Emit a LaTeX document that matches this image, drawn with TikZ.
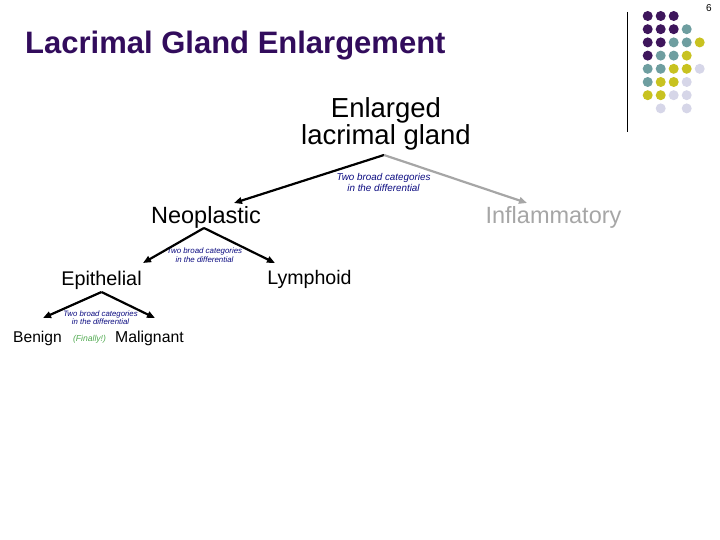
\documentclass[tikz,border=0pt]{standalone}
\usepackage{fontspec}
\setmainfont{Liberation Sans}
\setsansfont{Liberation Sans}
\usetikzlibrary{arrows.meta}
\definecolor{titlepurple}{RGB}{50,12,92}
\definecolor{dotP}{RGB}{62,22,92}
\definecolor{dotT}{RGB}{110,158,160}
\definecolor{dotY}{RGB}{200,194,32}
\definecolor{dotL}{RGB}{214,214,232}
\definecolor{lblnavy}{RGB}{10,10,128}
\definecolor{lightgray}{RGB}{166,166,166}
\definecolor{finalgreen}{RGB}{80,170,80}
\tikzset{
  txt/.style={inner sep=0pt, anchor=base, text=black},
  lbl/.style={inner sep=0pt, anchor=base, align=center, text=lblnavy},
  conn/.style={line width=2.2pt, -{Triangle[length=8pt,width=6.5pt]}},
  dot/.style={circle, inner sep=0pt, minimum size=10pt},
}
\begin{document}
\begin{tikzpicture}[x=1pt,y=-1pt]
\useasboundingbox (0,0) rectangle (720,540);
% page number
\node[txt, font=\fontsize{10}{12}\selectfont] (pnum) at (709,12) {6};
% title
\node[txt, anchor=base west, text=titlepurple, font=\fontsize{31}{34}\selectfont\bfseries] (title) at (25,54) {Lacrimal Gland Enlargement};
% vertical rule
\coordinate (vtop) at (627,12);
\coordinate (vbot) at (627,132);
\draw[line width=1pt] (vtop) -- (vbot);
% dots
\foreach \row/\cols in {0/{P,P,P,N,N},1/{P,P,P,T,N},2/{P,P,T,T,Y},3/{P,T,T,Y,N},4/{T,T,Y,Y,L},5/{T,Y,Y,L,N},6/{Y,Y,L,L,N},7/{N,L,N,L,N}}{
  \foreach \c [count=\i from 0] in \cols {
    \if\c N\else
      \node[dot, fill=dot\c] (d\row-\i) at ({647.7+13*\i},{16+13.2*\row}) {};
    \fi
  }
}
% tree nodes
\node[txt, align=center, font=\fontsize{27.5}{27}\selectfont] (root) at (386,145) {Enlarged\\lacrimal gland};
\node[txt, font=\fontsize{23.5}{26}\selectfont] (neo) at (206,224) {Neoplastic};
\node[txt, text=lightgray, font=\fontsize{23.5}{26}\selectfont] (infl) at (553.5,224) {Inflammatory};
\node[txt, font=\fontsize{19.8}{22}\selectfont] (epi) at (101.5,285) {Epithelial};
\node[txt, font=\fontsize{19.6}{22}\selectfont] (lym) at (309.5,284) {Lymphoid};
\node[txt, font=\fontsize{15.6}{18}\selectfont] (ben) at (37.5,342) {Benign};
\node[txt, font=\fontsize{15.8}{18}\selectfont] (mal) at (149.5,342) {Malignant};
\node[txt, text=finalgreen, font=\fontsize{8.6}{10}\selectfont\itshape] (fin) at (89.5,341) {(Finally!)};
% labels
\node[lbl, font=\fontsize{9.85}{11}\selectfont\itshape] (lab1) at (383.5,192) {Two broad categories\\in the differential};
\node[lbl, font=\fontsize{7.9}{8.6}\selectfont\itshape] (lab2) at (204.5,262.6) {Two broad categories\\in the differential};
\node[lbl, font=\fontsize{7.8}{8.4}\selectfont\itshape] (lab3) at (100.5,324.4) {Two broad categories\\in the differential};
% connector points
\coordinate (a1) at (384,155);
\coordinate (t1L) at (234,203);
\coordinate (t1R) at (527,203);
\coordinate (a2) at (204,228);
\coordinate (t2L) at (143,263);
\coordinate (t2R) at (275,263);
\coordinate (a3) at (101.5,292);
\coordinate (t3L) at (43,318);
\coordinate (t3R) at (155,318);
\draw[conn] (a1) -- (t1L);
\draw[conn, draw=lightgray, fill=lightgray] (a1) -- (t1R);
\draw[conn] (a2) -- (t2L);
\draw[conn] (a2) -- (t2R);
\draw[conn] (a3) -- (t3L);
\draw[conn] (a3) -- (t3R);
\end{tikzpicture}
\end{document}
